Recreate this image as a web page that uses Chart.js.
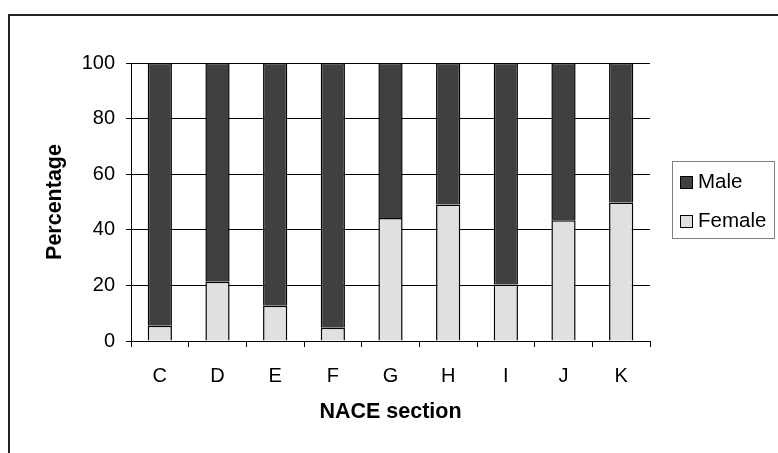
<!DOCTYPE html>
<html>
<head>
<meta charset="utf-8">
<script src="https://cdn.jsdelivr.net/npm/chart.js@4"></script>
<style>
  html, body { margin: 0; padding: 0; background: #fff; }
  #wrap { width: 778px; height: 453px; }
</style>
</head>
<body>
<div id="wrap"><canvas id="genderChart" width="778" height="453"></canvas></div>
<script>
// NACE sections and share of employees by sex (%)
const sections = ['C', 'D', 'E', 'F', 'G', 'H', 'I', 'J', 'K'];
const femaleShare = [5.5, 21.3, 12.7, 4.8, 44.2, 49.1, 20.3, 43.4, 49.8];
const maleShare = femaleShare.map(v => 100 - v);
const yTicks = [0, 20, 40, 60, 80, 100];

const FONT = "'Liberation Sans', Arial, sans-serif";

// outer frame (top + left edges only, as in the original)
const framePlugin = {
    id: 'frame',
    beforeDraw(chart) {
        const ctx = chart.ctx;
        ctx.save();
        ctx.strokeStyle = '#222';
        ctx.lineWidth = 2;
        ctx.beginPath();
        ctx.moveTo(9, 460);
        ctx.lineTo(9, 15);
        ctx.lineTo(790, 15);
        ctx.stroke();
        ctx.restore();
    }
};

// boxed legend to the right of the plot, Male first
const boxLegend = {
    id: 'boxLegend',
    afterDraw(chart) {
        const ctx = chart.ctx;
        const items = chart.data.datasets.slice().reverse();
        const x = 672.5, y = 161.5, w = 102, h = 77;
        ctx.save();
        ctx.strokeStyle = '#808080';
        ctx.lineWidth = 1;
        ctx.strokeRect(x, y, w, h);
        ctx.font = '20.5px ' + FONT;
        ctx.textBaseline = 'middle';
        ctx.textAlign = 'left';
        items.forEach((ds, i) => {
            const cy = 182 + i * 39;
            ctx.fillStyle = ds.backgroundColor;
            ctx.fillRect(680, cy - 6, 12, 12);
            ctx.strokeStyle = '#000';
            ctx.strokeRect(680.5, cy - 5.5, 12, 12);
            ctx.fillStyle = '#000';
            ctx.fillText(ds.label, 698, cy);
        });
        ctx.restore();
    }
};

const ctx = document.getElementById('genderChart').getContext('2d');
new Chart(ctx, {
    type: 'bar',
    data: {
        labels: sections,
        datasets: [
            {
                label: 'Female',
                data: femaleShare,
                backgroundColor: '#e0e0e0',
                borderColor: '#000',
                borderWidth: 1.5
            },
            {
                label: 'Male',
                data: maleShare,
                backgroundColor: '#404040',
                borderColor: '#000',
                borderWidth: 1.5
            }
        ]
    },
    options: {
        responsive: false,
        animation: false,
        layout: { padding: { left: 42, top: 63, right: 128, bottom: 0 } },
        categoryPercentage: 1,
        barPercentage: 0.42,
        scales: {
            x: {
                stacked: true,
                afterFit: s => { s.height = 112; },
                grid: {
                    display: true,
                    offset: true,
                    drawOnChartArea: false,
                    drawTicks: true,
                    tickLength: 6,
                    color: '#000'
                },
                border: { color: '#000', width: 1 },
                ticks: { color: '#000', padding: 17, font: { family: FONT, size: 20 } },
                title: {
                    display: true,
                    text: 'NACE section',
                    color: '#000',
                    padding: { top: 0, bottom: 28 },
                    font: { family: FONT, size: 21.5, weight: 'bold' }
                }
            },
            y: {
                stacked: true,
                min: 0,
                max: 100,
                afterFit: s => { s.width = 89; },
                afterBuildTicks: s => { s.ticks = yTicks.map(v => ({ value: v })); },
                grid: {
                    color: '#000',
                    lineWidth: 1,
                    drawTicks: true,
                    tickLength: 5
                },
                border: { color: '#000', width: 1 },
                ticks: { color: '#000', padding: 11, font: { family: FONT, size: 20 } },
                title: {
                    display: true,
                    text: 'Percentage',
                    color: '#000',
                    padding: { top: 0, bottom: 0 },
                    font: { family: FONT, size: 21.5, weight: 'bold' }
                }
            }
        },
        plugins: {
            legend: { display: false },
            tooltip: { enabled: false }
        }
    },
    plugins: [framePlugin, boxLegend]
});
</script>
</body>
</html>
